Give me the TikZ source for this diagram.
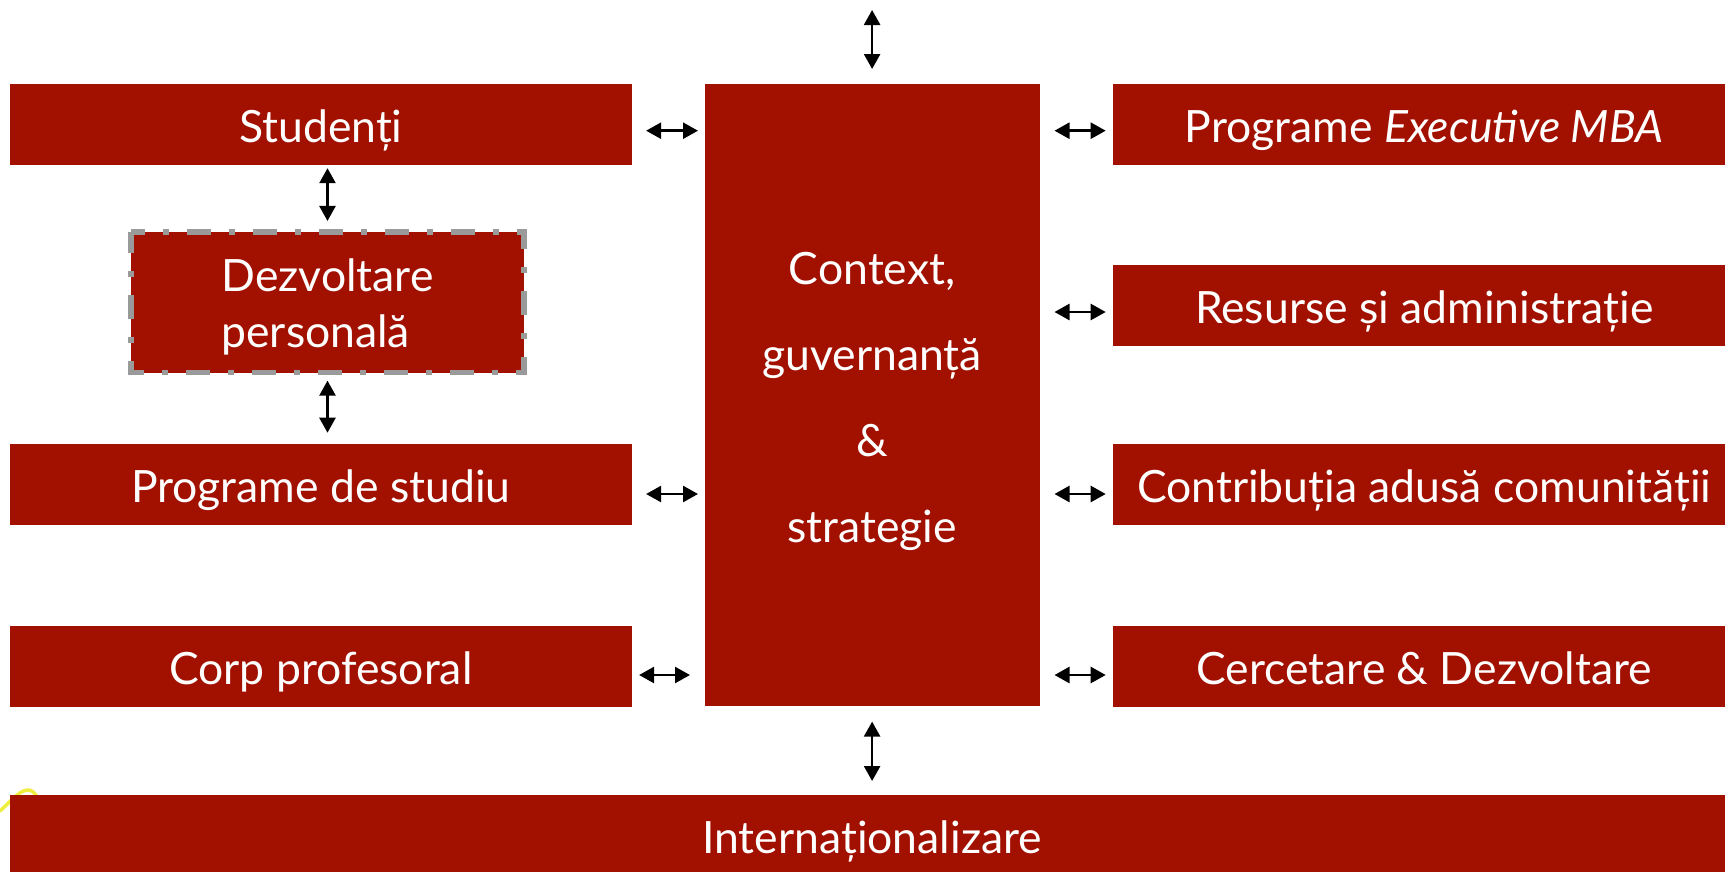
\documentclass[tikz,border=0pt]{standalone}
\usepackage{fontspec}
\setmainfont{Lato}
\usetikzlibrary{arrows.meta,calc}
\definecolor{boxred}{HTML}{A21000}
\definecolor{dashgray}{HTML}{9A9A9A}
\definecolor{markyellow}{HTML}{EFEF40}
\tikzset{
  redbox/.style={fill=boxred,draw=none,inner sep=0pt,outer sep=0pt,text=white,font=\fontsize{44.5}{58}\selectfont},
  barbox/.style={redbox,minimum width=622pt,minimum height=81pt,text height=36pt,text depth=0pt},
  biarrow/.style={draw=black,line width=2.5pt,{Triangle[length=15pt,width=16pt]}-{Triangle[length=15pt,width=16pt]}},
  devborder/.style={draw=dashgray,line width=5.2pt,dash pattern=on 24pt off 18pt on 6pt off 18pt,dash phase=10pt}
}
\begin{document}
\begin{tikzpicture}[x=1pt,y=-1pt]
\useasboundingbox (0,0) rectangle (1725,871);
\draw[markyellow,line width=3.5pt,line cap=round] (0,811) .. controls (12,800) and (20,790) .. (28,790) .. controls (32,790) and (35,793) .. (37,797);
% left column
\node[barbox] (stud) at (320.8,124.7) {Studenți};
\node[barbox] (prog) at (320.8,484.5) {Programe de studiu};
\node[barbox] (corp) at (320.8,666) {Corp profesoral};
\node[redbox,minimum width=393pt,minimum height=140.7pt,align=left,font=\fontsize{44.5}{56}\selectfont] (dev) at (327.5,302.3) {\rule{0pt}{43pt}Dezvoltare\\personală};
\draw[devborder] (dev.north west) -- (dev.north east) -- (dev.south east) -- (dev.south west) -- cycle;
% centre
\node[redbox,minimum width=334.8pt,minimum height=622pt,align=center,font=\fontsize{44.5}{86}\selectfont] (ctx) at (872.1,395) {\rule{0pt}{46pt}Context,\\guvernanță\\\&\\strategie};
% right column
\node[barbox] (exec) at (1424.2,124.7) {Programe \textit{Executive MBA}};
\node[barbox] (res) at (1424.2,305.7) {Resurse și administrație};
\node[barbox] (com) at (1424.2,484.5) {Contribuția adusă comunității};
\node[barbox] (cer) at (1424.2,666) {Cercetare \& Dezvoltare};
% bottom
\node[barbox,minimum width=1724pt] (intl) at (872.1,835.5) {Internaționalizare};
% connectors
\coordinate (topa) at (872.1,10);
\coordinate (topb) at (872.1,69);
\draw[biarrow] (topa) -- (topb);
\draw[biarrow,shorten <=15.6pt,shorten >=14pt] (ctx.south) -- (ctx.south |- intl.north);
\draw[biarrow,shorten <=3pt,shorten >=11pt] (dev.north |- stud.south) -- (dev.north);
\draw[biarrow,shorten <=8pt,shorten >=11.3pt] (dev.south) -- (dev.south |- prog.north);
\draw[biarrow,shorten <=14.3pt,shorten >=6.7pt] ([yshift=-6pt]stud.east) -- ([yshift=-6pt]stud.east -| ctx.west);
\draw[biarrow,shorten <=14.3pt,shorten >=6.7pt] ([yshift=-9.5pt]prog.east) -- ([yshift=-9.5pt]prog.east -| ctx.west);
\draw[biarrow,shorten <=7.3pt,shorten >=14.7pt] ([yshift=-9pt]corp.east) -- ([yshift=-9pt]corp.east -| ctx.west);
\draw[biarrow,shorten <=15pt,shorten >=7.5pt] ([yshift=-6pt]exec.west -| ctx.east) -- ([yshift=-6pt]exec.west);
\draw[biarrow,shorten <=15pt,shorten >=7.5pt] ([yshift=-6.3pt]res.west -| ctx.east) -- ([yshift=-6.3pt]res.west);
\draw[biarrow,shorten <=15pt,shorten >=7.5pt] ([yshift=-9.5pt]com.west -| ctx.east) -- ([yshift=-9.5pt]com.west);
\draw[biarrow,shorten <=15pt,shorten >=7.5pt] ([yshift=-9pt]cer.west -| ctx.east) -- ([yshift=-9pt]cer.west);
\end{tikzpicture}
\end{document}
